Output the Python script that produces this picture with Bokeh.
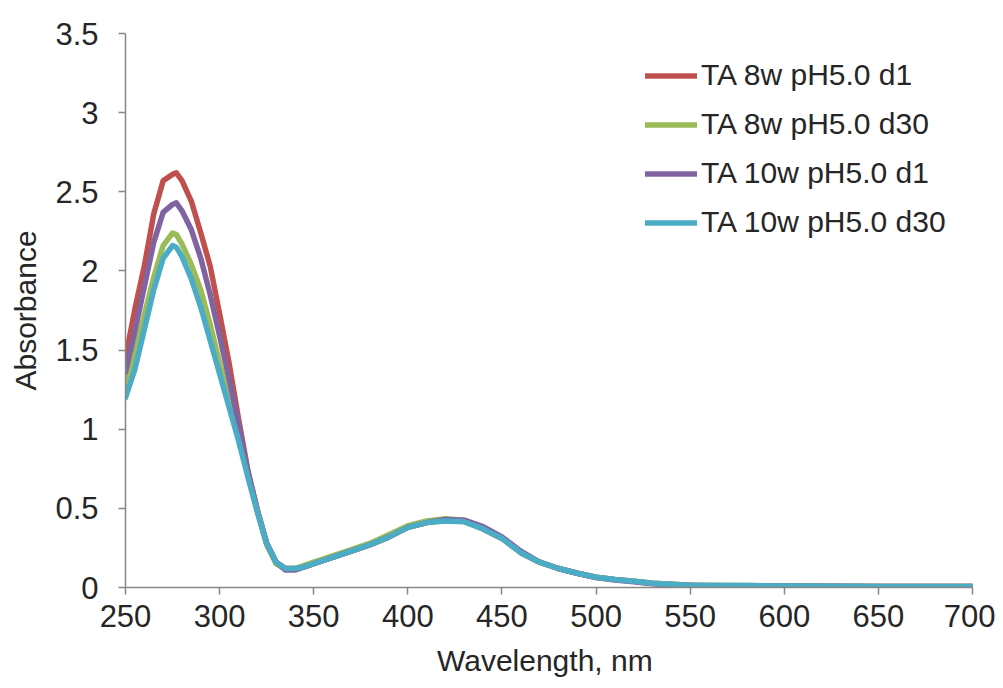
from bokeh.plotting import figure
from bokeh.models import Range1d, FixedTicker, Legend, LegendItem
from bokeh.embed import file_html
from bokeh.resources import INLINE

# Wavelength (nm)
wl = [250, 255, 260, 265, 270, 275, 277, 280, 285, 290, 295, 300, 305, 310, 315,
      320, 325, 330, 335, 340, 345, 350, 360, 370, 380, 390, 400, 410, 420, 430,
      440, 450, 460, 470, 480, 490, 500, 510, 520, 530, 540, 550, 560, 580, 600,
      650, 700]

ta8_d1 = [1.45, 1.76, 2.03, 2.36, 2.57, 2.61, 2.62, 2.57, 2.44, 2.24, 2.03, 1.73, 1.42, 1.07, 0.74,
          0.49, 0.28, 0.16, 0.12, 0.12, 0.13, 0.15, 0.19, 0.23, 0.27, 0.32, 0.38, 0.41, 0.425, 0.42,
          0.37, 0.31, 0.22, 0.16, 0.12, 0.09, 0.065, 0.05, 0.04, 0.027, 0.02, 0.015, 0.012, 0.011, 0.009,
          0.006, 0.006]

ta8_d30 = [1.28, 1.48, 1.72, 1.96, 2.16, 2.24, 2.23, 2.17, 2.04, 1.88, 1.66, 1.42, 1.19, 0.96, 0.71,
           0.48, 0.27, 0.15, 0.12, 0.12, 0.14, 0.16, 0.20, 0.24, 0.28, 0.335, 0.39, 0.42, 0.435, 0.425,
           0.37, 0.31, 0.22, 0.16, 0.12, 0.09, 0.065, 0.05, 0.04, 0.027, 0.02, 0.015, 0.013, 0.012, 0.010,
           0.006, 0.006]

ta10_d1 = [1.36, 1.62, 1.90, 2.18, 2.37, 2.42, 2.43, 2.38, 2.26, 2.08, 1.85, 1.59, 1.32, 1.04, 0.73,
           0.49, 0.28, 0.16, 0.11, 0.11, 0.13, 0.15, 0.19, 0.23, 0.27, 0.32, 0.38, 0.41, 0.43, 0.425,
           0.385, 0.32, 0.23, 0.16, 0.12, 0.09, 0.063, 0.047, 0.037, 0.024, 0.017, 0.013, 0.011, 0.010, 0.008,
           0.006, 0.006]

ta10_d30 = [1.20, 1.38, 1.63, 1.88, 2.08, 2.16, 2.15, 2.09, 1.95, 1.77, 1.56, 1.35, 1.14, 0.93, 0.70,
            0.48, 0.28, 0.16, 0.12, 0.12, 0.13, 0.15, 0.19, 0.23, 0.27, 0.32, 0.38, 0.41, 0.42, 0.415,
            0.37, 0.31, 0.22, 0.16, 0.12, 0.09, 0.065, 0.05, 0.04, 0.027, 0.02, 0.015, 0.013, 0.012, 0.010,
            0.006, 0.006]

series_names = ["TA 8w pH5.0 d1", "TA 8w pH5.0 d30", "TA 10w pH5.0 d1", "TA 10w pH5.0 d30"]
series_vals = [ta8_d1, ta8_d30, ta10_d1, ta10_d30]
colors = ["#C0504D", "#9BBB59", "#8064A2", "#4BACC6"]

x_ticks = [250, 300, 350, 400, 450, 500, 550, 600, 650, 700]
y_ticks = [0, 0.5, 1, 1.5, 2, 2.5, 3, 3.5]
y_tick_labels = ["0", "0.5", "1", "1.5", "2", "2.5", "3", "3.5"]

FONT = "Liberation Sans"
TXT = "#262626"
AX = "#868686"

p = figure(width=995, height=680, output_backend="svg", toolbar_location=None,
           x_range=Range1d(250, 700), y_range=Range1d(0, 3.5),
           min_border_left=125, min_border_right=23, min_border_top=33, min_border_bottom=93)
p.outline_line_color = None
p.xgrid.visible = False
p.ygrid.visible = False
p.background_fill_color = "white"
p.border_fill_color = "white"

items = []
for name, vals, c in zip(series_names, series_vals, colors):
    r = p.line(wl, vals, line_color=c, line_width=5.5, line_join="round", line_cap="round")
    items.append(LegendItem(label=name, renderers=[r]))

for ax in (p.xaxis[0], p.yaxis[0]):
    ax.axis_line_color = AX
    ax.axis_line_width = 1.5
    ax.major_tick_line_color = AX
    ax.major_tick_line_width = 1.5
    ax.major_tick_out = 7
    ax.major_tick_in = 0
    ax.minor_tick_line_color = None
    ax.major_label_text_font = FONT
    ax.major_label_text_font_size = "31px"
    ax.major_label_text_color = TXT
    ax.axis_label_text_font = FONT
    ax.axis_label_text_font_size = "30px"
    ax.axis_label_text_color = TXT
    ax.axis_label_text_font_style = "normal"

p.xaxis[0].ticker = FixedTicker(ticks=x_ticks)
p.yaxis[0].ticker = FixedTicker(ticks=y_ticks)
p.yaxis[0].major_label_overrides = {t: l for t, l in zip(y_ticks, y_tick_labels)}
p.xaxis[0].axis_label = "Wavelength,  nm"
p.yaxis[0].axis_label = "Absorbance"
p.xaxis[0].major_label_standoff = 10
p.yaxis[0].major_label_standoff = 20
p.xaxis[0].axis_label_standoff = 14
p.yaxis[0].axis_label_standoff = 10

legend = Legend(items=items, location=(520, 348), margin=0, padding=0,
                glyph_width=52, glyph_height=31, label_height=31, spacing=15,
                label_standoff=4, border_line_color=None, background_fill_alpha=0,
                label_text_font=FONT, label_text_font_size="30px", label_text_color=TXT)
p.add_layout(legend, "center")

open("out.html", "w").write(file_html(p, INLINE))
